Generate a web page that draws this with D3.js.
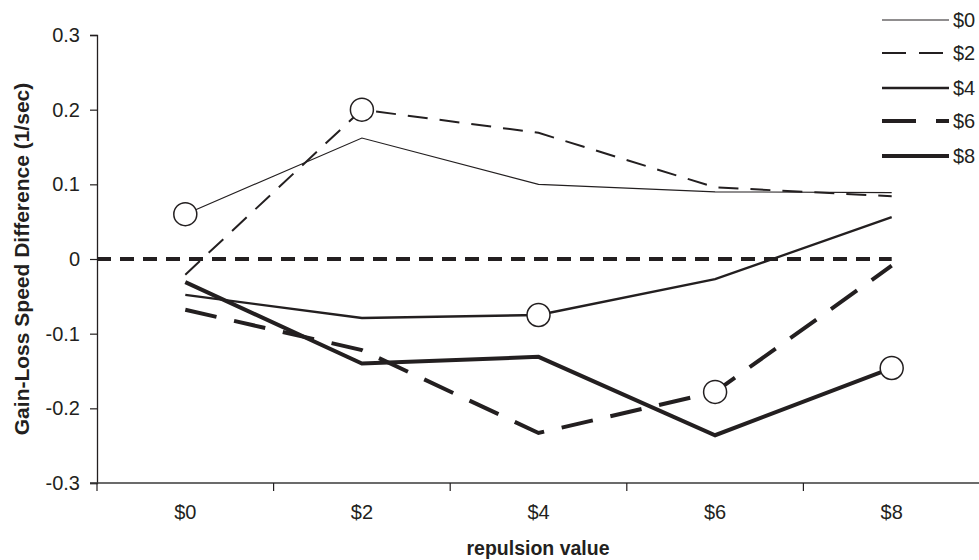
<!DOCTYPE html>
<html>
<head>
<meta charset="utf-8">
<script src="https://cdn.jsdelivr.net/npm/d3@7"></script>
<style>
  body { margin: 0; background: #fff; }
  text { font-family: "Liberation Sans", Arial, sans-serif; fill: #231f20; }
</style>
</head>
<body>
<div id="chart"></div>
<script>
// categories on the x axis
const categories = ['$0', '$2', '$4', '$6', '$8'];
// one series per legend entry
const seriesNames = ['$0', '$2', '$4', '$6', '$8'];
const s0 = [0.060, 0.162, 0.100, 0.090, 0.089];
const s2 = [-0.021, 0.200, 0.169, 0.096, 0.084];
const s4 = [-0.048, -0.079, -0.075, -0.027, 0.056];
const s6 = [-0.068, -0.122, -0.233, -0.178, -0.009];
const s8 = [-0.031, -0.140, -0.131, -0.236, -0.146];
const yTicks = [-0.3, -0.2, -0.1, 0, 0.1, 0.2, 0.3];

const W = 979, H = 560;
const ink = '#231f20';

const svg = d3.select('#chart')
  .append('svg')
  .attr('width', W)
  .attr('height', H);

const x = d3.scaleBand()
  .domain(categories)
  .range([97, 980])
  .padding(0);

const y = d3.scaleLinear()
  .domain([-0.3, 0.3])
  .range([483, 35]);

const cx = c => x(c) + x.bandwidth() / 2;

// line styles, in legend order
const styles = [
  { width: 1.2, dash: null },
  { width: 2, dash: '20,12' },
  { width: 2.3, dash: null },
  { width: 4, dash: '32,18' },
  { width: 4, dash: null }
];

const series = [s0, s2, s4, s6, s8].map((vals, i) => ({
  name: seriesNames[i],
  values: vals.map((v, j) => ({ cat: categories[j], v })),
  style: styles[i]
}));

// y axis
const yAxis = svg.append('g')
  .attr('transform', 'translate(97,0)')
  .call(d3.axisLeft(y).tickValues(yTicks).tickSize(7).tickPadding(10)
    .tickFormat(d => d === 0 ? '0' : d3.format('.1f')(d).replace('\u2212', '-')));
yAxis.select('.domain').attr('stroke', ink).attr('stroke-width', 1.3);
yAxis.selectAll('.tick line').attr('stroke', ink).attr('stroke-width', 1.2);
yAxis.selectAll('text').style('font-size', '20px').attr('fill', ink);

// x axis, ticks on the band edges
const xAxisG = svg.append('g')
  .attr('transform', `translate(0,${y(-0.3)})`);
xAxisG.append('line')
  .attr('x1', 90).attr('x2', 980)
  .attr('stroke', '#3a3a3a').attr('stroke-width', 1.6);
xAxisG.selectAll('.xtick')
  .data(categories)
  .enter()
  .append('line')
  .attr('x1', d => x(d)).attr('x2', d => x(d))
  .attr('y1', 0).attr('y2', 8)
  .attr('stroke', ink).attr('stroke-width', 1.2);
xAxisG.selectAll('.xlabel')
  .data(categories)
  .enter()
  .append('text')
  .attr('x', d => cx(d))
  .attr('y', 29)
  .attr('dy', '0.35em')
  .attr('text-anchor', 'middle')
  .style('font-size', '20px')
  .text(d => d);

// axis titles
svg.append('text')
  .attr('x', 538).attr('y', 548)
  .attr('dy', '0.35em')
  .attr('text-anchor', 'middle')
  .style('font-size', '19.5px').style('font-weight', 'bold')
  .text('repulsion value');

svg.append('text')
  .attr('transform', 'translate(22,259) rotate(-90)')
  .attr('dy', '0.35em')
  .attr('text-anchor', 'middle')
  .style('font-size', '21px').style('font-weight', 'bold')
  .text('Gain-Loss Speed Difference (1/sec)');

// zero reference line
svg.append('line')
  .attr('x1', 97).attr('x2', cx('$8'))
  .attr('y1', y(0)).attr('y2', y(0))
  .attr('stroke', ink).attr('stroke-width', 4)
  .attr('stroke-dasharray', '14,9');

// series lines
const line = d3.line()
  .x(d => cx(d.cat))
  .y(d => y(d.v));

svg.selectAll('.series')
  .data(series)
  .enter()
  .append('path')
  .attr('class', 'series')
  .attr('d', d => line(d.values))
  .attr('fill', 'none')
  .attr('stroke', ink)
  .attr('stroke-width', d => d.style.width)
  .attr('stroke-dasharray', d => d.style.dash)
  .attr('stroke-linejoin', 'miter');

// open circles: each series marked at its own repulsion value
svg.selectAll('.marker')
  .data(series.map((s, i) => s.values[i]))
  .enter()
  .append('circle')
  .attr('cx', d => cx(d.cat))
  .attr('cy', d => y(d.v))
  .attr('r', 11.5)
  .attr('fill', '#fff')
  .attr('stroke', ink)
  .attr('stroke-width', 1.5);

// legend
const legend = svg.append('g');
const rows = [20, 53, 88, 121, 156];
series.forEach((s, i) => {
  legend.append('line')
    .attr('x1', 882).attr('x2', 949)
    .attr('y1', rows[i]).attr('y2', rows[i])
    .attr('stroke', ink)
    .attr('stroke-width', s.style.width)
    .attr('stroke-dasharray', s.style.dash ? (i === 1 ? '24,13' : '34,20') : null);
  legend.append('text')
    .attr('x', 953).attr('y', rows[i])
    .attr('dy', '0.35em')
    .style('font-size', '20px')
    .text(s.name);
});
</script>
</body>
</html>
